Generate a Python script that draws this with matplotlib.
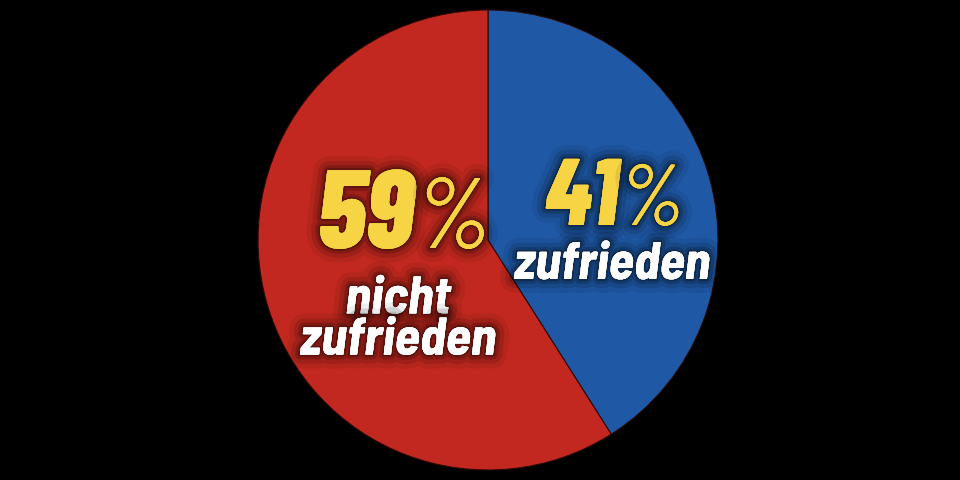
import matplotlib
matplotlib.use("Agg")
import matplotlib.pyplot as plt
import matplotlib.patheffects as pe

labels = ["zufrieden", "nicht\nzufrieden"]
values = [41, 59]
colors = ["#1F59A6", "#C2281F"]

fig = plt.figure(figsize=(9.6, 4.8), dpi=100, facecolor="black")
ax = fig.add_axes([0, 0, 1, 1])
ax.set_facecolor("black")
ax.axis("off")

ax.pie(values, colors=colors, startangle=90, counterclock=False,
       center=(488, 240), radius=230,
       wedgeprops=dict(edgecolor="#2a0a08", linewidth=0.8))
ax.set_xlim(0, 960)
ax.set_ylim(0, 480)
ax.set_aspect("equal")

glow = [pe.withStroke(linewidth=20, foreground=(0, 0, 0, 0.07)),
        pe.withStroke(linewidth=13, foreground=(0, 0, 0, 0.12)),
        pe.withStroke(linewidth=7, foreground=(0, 0, 0, 0.18)),
        pe.withStroke(linewidth=3, foreground=(0, 0, 0, 0.25)),
        pe.Normal()]

yellow = "#F7D443"
numfont = "Barlow Condensed"
wordfont = "Barlow Semi Condensed"

# 59%
ax.text(414, 480 - 248, f"{values[1]}", ha="right", va="baseline", fontsize=80,
        fontweight=800, fontstyle="italic", family=numfont, color=yellow, path_effects=glow)
ax.text(415, 480 - 248, "%", ha="left", va="baseline", fontsize=72,
        fontweight=400, fontstyle="italic", family=numfont, color=yellow, path_effects=glow)
ax.text(398, 480 - 320, labels[1], ha="center", va="center", fontsize=38,
        linespacing=0.82, multialignment="center",
        fontweight="bold", fontstyle="italic", family=wordfont, color="white", path_effects=glow)

# 41%
ax.text(618, 480 - 225, f"{values[0]}", ha="right", va="baseline", fontsize=68,
        fontweight=800, fontstyle="italic", family=numfont, color=yellow, path_effects=glow)
ax.text(619, 480 - 225, "%", ha="left", va="baseline", fontsize=62,
        fontweight=400, fontstyle="italic", family=numfont, color=yellow, path_effects=glow)
ax.text(612, 480 - 279, labels[0], ha="center", va="baseline", fontsize=38,
        fontweight="bold", fontstyle="italic", family=wordfont, color="white", path_effects=glow)

fig.savefig("out.png", dpi=100, facecolor="black")
